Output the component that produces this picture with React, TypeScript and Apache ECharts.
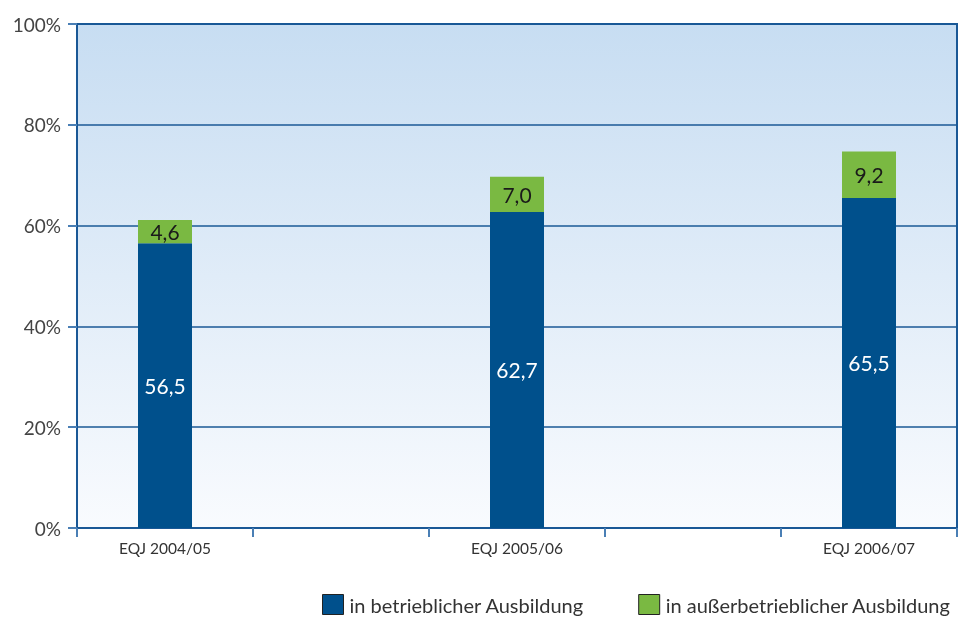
import React, { useEffect, useRef } from "react";
import * as echarts from "echarts";

const categories = ["EQJ 2004/05", "", "EQJ 2005/06", "", "EQJ 2006/07"];
const betrieblich = [56.5, null, 62.7, null, 65.5];
const ausserbetrieblich = [4.6, null, 7.0, null, 9.2];
const yTicks = { min: 0, max: 100, interval: 20 };

const fmt = (p: any) => (p.value == null ? "" : Number(p.value).toFixed(1).replace(".", ","));

export default function App() {
  const ref = useRef<HTMLDivElement>(null);
  useEffect(() => {
    const chart = echarts.init(ref.current!, null, { renderer: "svg" });
    const font = "Lato";
    chart.setOption({
      animation: false,
      textStyle: { fontFamily: font },
      grid: {
        left: 77,
        right: 4,
        top: 24,
        bottom: 89,
        show: true,
        borderColor: "#1a5896",
        borderWidth: 2,
        backgroundColor: new echarts.graphic.LinearGradient(0, 0, 0, 1, [
          { offset: 0, color: "#c7ddf2" },
          { offset: 1, color: "#f9fbfe" },
        ]),
      },
      legend: {
        left: 322,
        top: 594,
        padding: 0,
        icon: "rect",
        itemWidth: 21,
        itemHeight: 20,
        itemGap: 54,
        textStyle: { fontSize: 20, color: "#333", fontFamily: font, padding: [0, 0, 0, 1] },
        data: [
          { name: "in betrieblicher Ausbildung", itemStyle: { borderColor: "#222", borderWidth: 1 } },
          { name: "in außerbetrieblicher Ausbildung", itemStyle: { borderColor: "#222", borderWidth: 1 } },
        ],
      },
      xAxis: {
        type: "category",
        data: categories,
        axisLine: { show: true, lineStyle: { color: "#1a5896", width: 2 } },
        axisTick: { show: true, interval: 0, length: 9, lineStyle: { color: "#4a7fb5", width: 2 } },
        axisLabel: { interval: 0, color: "#333", fontSize: 15.5, margin: 12, fontFamily: font },
      },
      yAxis: {
        type: "value",
        min: yTicks.min,
        max: yTicks.max,
        interval: yTicks.interval,
        axisLine: { show: true, lineStyle: { color: "#1a5896", width: 2 } },
        axisTick: { show: true, length: 9, lineStyle: { color: "#4a7fb5", width: 2 } },
        axisLabel: { formatter: "{value}%", color: "#444", fontSize: 19, margin: 16, fontFamily: font },
        splitLine: { show: true, lineStyle: { color: "#1a5896", width: 1.5 } },
      },
      series: [
        {
          name: "in betrieblicher Ausbildung",
          type: "bar",
          stack: "a",
          barWidth: 54,
          data: betrieblich,
          itemStyle: { color: "#00508c" },
          label: { show: true, position: "inside", color: "#fff", fontSize: 21, formatter: fmt, fontFamily: font },
        },
        {
          name: "in außerbetrieblicher Ausbildung",
          type: "bar",
          stack: "a",
          barWidth: 54,
          data: ausserbetrieblich,
          itemStyle: { color: "#7ab942" },
          label: { show: true, position: "inside", color: "#1a1a1a", fontSize: 21, formatter: fmt, fontFamily: font },
        },
      ],
    });
    return () => chart.dispose();
  }, []);
  return <div ref={ref} style={{ position: "fixed", left: 0, top: 0, width: 961, height: 617 }} />;
}
